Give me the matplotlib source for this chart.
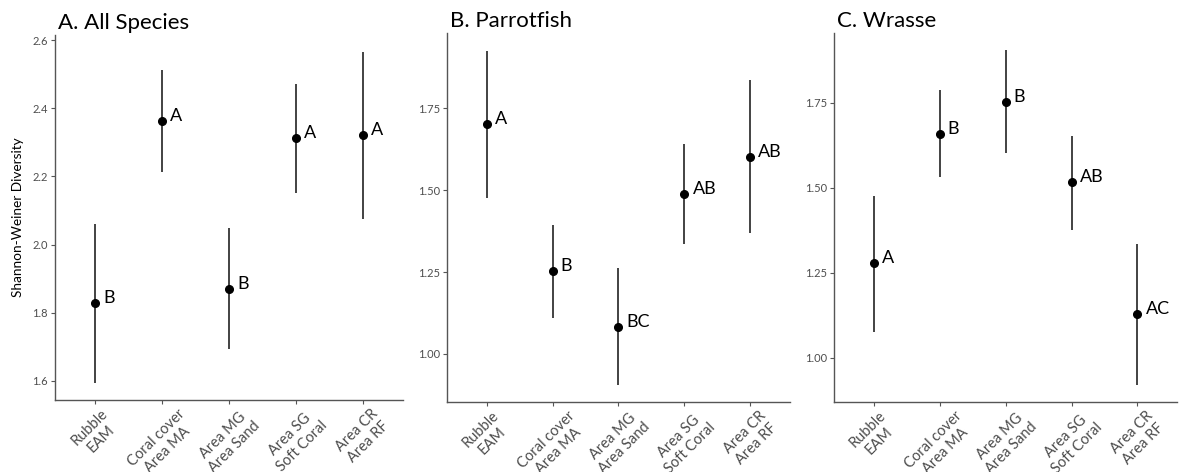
import matplotlib
matplotlib.use('Agg')
import matplotlib.pyplot as plt
import numpy as np

plt.rcParams['font.family'] = ['Lato', 'DejaVu Sans']

# site categories (x axis)
categories = ["Rubble\nEAM", "Coral cover\nArea MA", "Area MG\nArea Sand",
              "Area SG\nSoft Coral", "Area CR\nArea RF"]

# A. All species
all_mean = [1.828, 2.362, 1.871, 2.313, 2.321]
all_low = [1.593, 2.212, 1.694, 2.150, 2.075]
all_high = [2.060, 2.512, 2.049, 2.471, 2.566]
all_letters = ["B", "A", "B", "A", "A"]
all_ticks = [1.6, 1.8, 2.0, 2.2, 2.4, 2.6]

# B. Parrotfish
parrot_mean = [1.701, 1.252, 1.082, 1.488, 1.602]
parrot_low = [1.475, 1.109, 0.905, 1.335, 1.368]
parrot_high = [1.926, 1.395, 1.262, 1.641, 1.836]
parrot_letters = ["A", "B", "BC", "AB", "AB"]

# C. Wrasse
wrasse_mean = [1.278, 1.658, 1.753, 1.517, 1.129]
wrasse_low = [1.076, 1.531, 1.603, 1.377, 0.920]
wrasse_high = [1.476, 1.787, 1.905, 1.652, 1.336]
wrasse_letters = ["A", "B", "B", "AB", "AC"]
fish_ticks = [1.00, 1.25, 1.50, 1.75]

axis_grey = '#555555'

fig = plt.figure(figsize=(11.8, 4.72), dpi=100)

panels = [
    ("A. All Species", all_mean, all_low, all_high, all_letters, all_ticks, (1.544, 2.615), '%.1f',
     [0.0466, 0.1525, 0.2949, 0.7733]),
    ("B. Parrotfish", parrot_mean, parrot_low, parrot_high, parrot_letters, fish_ticks, (0.854, 1.98), '%.2f',
     [0.3788, 0.149, 0.2907, 0.781]),
    ("C. Wrasse", wrasse_mean, wrasse_low, wrasse_high, wrasse_letters, fish_ticks, (0.871, 1.955), '%.2f',
     [0.7068, 0.149, 0.2907, 0.781]),
]

for i, (title, mean, low, high, letters, ticks, ylim, fmt, rect) in enumerate(panels):
    ax = fig.add_axes(rect)
    x = np.arange(len(categories))
    ax.vlines(x, low, high, color='#222222', linewidth=1.2)
    ax.plot(x, mean, 'o', color='black', markersize=5.5)
    for xi, yi, lab in zip(x, mean, letters):
        ax.annotate(lab, (xi, yi), xytext=(8, 5), textcoords='offset pixels',
                    ha='left', va='center', fontsize=13)
    ax.set_xlim(-0.6, 4.6)
    ax.set_ylim(*ylim)
    ax.set_yticks(ticks)
    ax.set_yticklabels([fmt % t for t in ticks])
    ax.set_xticks(x)
    ax.set_xticklabels(categories, rotation=45, ha='center', va='top',
                       rotation_mode='default', multialignment='center', fontsize=10.5)
    for s in ['top', 'right']:
        ax.spines[s].set_visible(False)
    for s in ['left', 'bottom']:
        ax.spines[s].set_color(axis_grey)
        ax.spines[s].set_linewidth(1.0)
    ax.tick_params(axis='both', colors=axis_grey, length=3, width=0.8)
    ax.tick_params(axis='y', labelsize=8, labelcolor='#4d4d4d', pad=2)
    ax.tick_params(axis='x', labelcolor='#4d4d4d', pad=2)
    ax.set_title(title, loc='left', fontsize=16, pad=4, x=0.01)
    if i == 0:
        ax.set_ylabel("Shannon-Weiner Diversity", fontsize=9.8, labelpad=6)

fig.savefig('out.png', dpi=100)
